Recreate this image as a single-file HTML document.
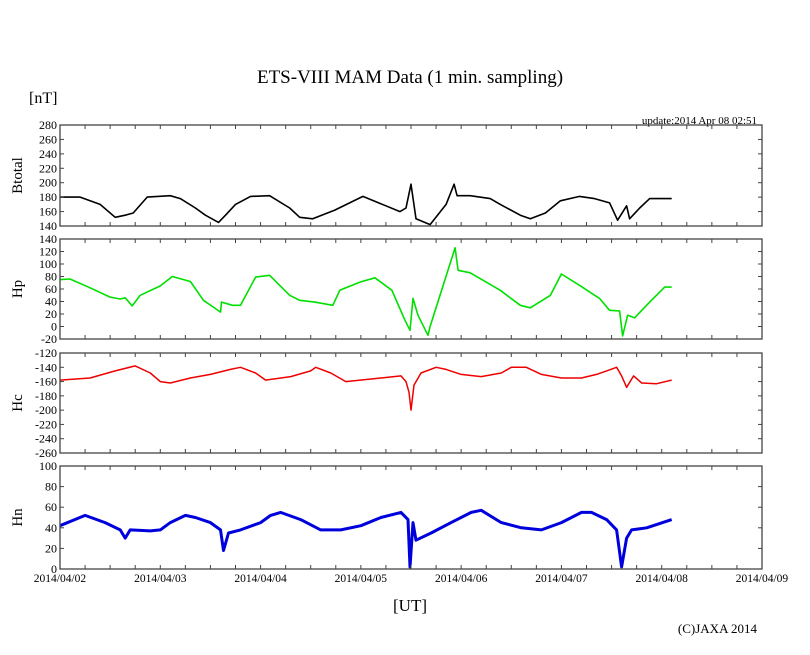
<!DOCTYPE html>
<html><head><meta charset="utf-8"><style>
body{margin:0;background:#fff;}
svg{display:block;font-family:"Liberation Serif",serif;}
</style></head><body>
<svg id="c" width="810" height="655">
<text x="410" y="83" font-size="19" text-anchor="middle">ETS-VIII MAM Data (1 min. sampling)</text>
<text x="29" y="103" font-size="16">[nT]</text>
<text x="757" y="124" font-size="11" text-anchor="end">update:2014 Apr 08 02:51</text>
<text x="410" y="611" font-size="17" text-anchor="middle">[UT]</text>
<text x="757" y="633" font-size="13" text-anchor="end">(C)JAXA 2014</text>
</svg>
<script>
const dayLabels=["2014/04/02","2014/04/03","2014/04/04","2014/04/05","2014/04/06","2014/04/07","2014/04/08","2014/04/09"];
const btT=[0,0.2,0.4,0.55,0.65,0.73,0.87,1.1,1.2,1.35,1.45,1.58,1.65,1.75,1.9,2.09,2.29,2.39,2.52,2.74,3.02,3.39,3.45,3.5,3.55,3.69,3.85,3.93,3.96,4.09,4.29,4.39,4.59,4.69,4.84,4.99,5.18,5.33,5.48,5.56,5.65,5.68,5.78,5.88,6.1];
const btV=[180,180,170,152,155,158,180,182,178,165,155,145,155,170,181,182,165,152,150,162,181,160,165,198,150,142,170,198,182,182,178,170,155,150,158,175,181,178,172,148,168,150,165,178,178];
const hpT=[0,0.1,0.3,0.5,0.6,0.65,0.72,0.8,1.0,1.12,1.3,1.43,1.53,1.6,1.61,1.72,1.8,1.95,2.09,2.29,2.39,2.54,2.72,2.79,2.99,3.14,3.31,3.44,3.49,3.52,3.57,3.67,3.69,3.94,3.97,4.09,4.39,4.59,4.69,4.89,5.0,5.18,5.38,5.48,5.58,5.61,5.66,5.73,5.88,6.03,6.1];
const hpV=[75,76,62,47,44,46,33,50,65,80,72,42,31,23,39,34,34,79,82,50,42,39,34,58,71,78,58,10,-6,45,18,-14,0,126,90,86,58,34,30,50,84,66,45,26,25,-15,18,14,39,63,63];
const hcT=[0,0.3,0.55,0.75,0.9,1.0,1.1,1.3,1.5,1.7,1.8,1.95,2.05,2.3,2.5,2.55,2.7,2.85,3.2,3.4,3.45,3.48,3.5,3.53,3.6,3.75,3.85,4.0,4.2,4.4,4.5,4.65,4.8,5.0,5.2,5.35,5.45,5.55,5.6,5.65,5.72,5.8,5.95,6.1];
const hcV=[-158,-155,-145,-138,-148,-160,-162,-155,-150,-143,-140,-148,-158,-153,-145,-140,-148,-160,-155,-152,-160,-175,-200,-165,-148,-140,-143,-150,-153,-148,-140,-140,-150,-155,-155,-150,-145,-140,-152,-168,-152,-162,-163,-158];
const hnT=[0,0.25,0.45,0.6,0.65,0.7,0.9,1.0,1.1,1.25,1.35,1.5,1.6,1.63,1.68,1.8,2.0,2.1,2.2,2.4,2.6,2.8,3.0,3.2,3.4,3.47,3.49,3.52,3.55,3.7,3.9,4.1,4.2,4.4,4.6,4.8,5.0,5.2,5.3,5.45,5.55,5.6,5.65,5.7,5.85,6.1];
const hnV=[42,52,45,38,30,38,37,38,45,52,50,45,38,18,35,38,45,52,55,48,38,38,42,50,55,48,2,45,28,35,45,55,57,45,40,38,45,55,55,48,38,2,30,38,40,48];
const panels=[
 {name:"btotal",label:"Btotal",top:125,bot:226,min:140,max:280,step:20,t:btT,v:btV,color:"#000",w:1.6},
 {name:"hp",label:"Hp",top:239,bot:339,min:-20,max:140,step:20,t:hpT,v:hpV,color:"#00e000",w:1.6},
 {name:"hc",label:"Hc",top:353,bot:453,min:-260,max:-120,step:20,t:hcT,v:hcV,color:"#ee0000",w:1.5},
 {name:"hn",label:"Hn",top:466,bot:569,min:0,max:100,step:20,t:hnT,v:hnV,color:"#0000dd",w:3}
];
const X0=60,X1=762,DAYS=7;
const svg=document.getElementById('c');const NS="http://www.w3.org/2000/svg";
function mk(tag,attrs,parent){const e=document.createElementNS(NS,tag);for(const k in attrs)e.setAttribute(k,attrs[k]);(parent||svg).appendChild(e);return e;}
const xs=t=>X0+t/DAYS*(X1-X0);
panels.forEach(p=>{
 const g=mk('g',{});
 
 
 const ys=v=>p.bot-(v-p.min)/(p.max-p.min)*(p.bot-p.top);
 let d='';p.t.forEach((t,i)=>{d+=(i?'L':'M')+xs(t).toFixed(1)+','+ys(p.v[i]).toFixed(1);});
 const line=mk('path',{d:d,fill:'none',stroke:p.color,'stroke-width':p.w,'stroke-linejoin':'round'},g);
 
 
 for(let k=0;k<=DAYS*4;k++){const x=xs(k/4);mk('line',{x1:x,x2:x,y1:p.bot,y2:p.bot-4,stroke:'#444'},g);mk('line',{x1:x,x2:x,y1:p.top,y2:p.top+4,stroke:'#444'},g);}
 for(let v=p.min;v<=p.max;v+=p.step){const y=ys(v);
  mk('line',{x1:X0,x2:X0+4,y1:y,y2:y,stroke:'#444'},g);mk('line',{x1:X1,x2:X1-4,y1:y,y2:y,stroke:'#444'},g);
  const tx=mk('text',{x:X0-3,y:y+4,'font-size':12,'text-anchor':'end'},g);tx.textContent=v;
  
  }
 mk('rect',{x:X0,y:p.top,width:X1-X0,height:p.bot-p.top,fill:'none',stroke:'#444','stroke-width':1.3},g);
 const lb=mk('text',{x:0,y:0,'font-size':15,'text-anchor':'middle',transform:`translate(22,${(p.top+p.bot)/2}) rotate(-90)`},g);
 lb.textContent=p.label;
 
 
});
dayLabels.forEach((s,i)=>{const t=mk('text',{x:xs(i),y:582,'font-size':11.5,'text-anchor':'middle'});t.textContent=s;
 
 });
</script>
</body></html>
